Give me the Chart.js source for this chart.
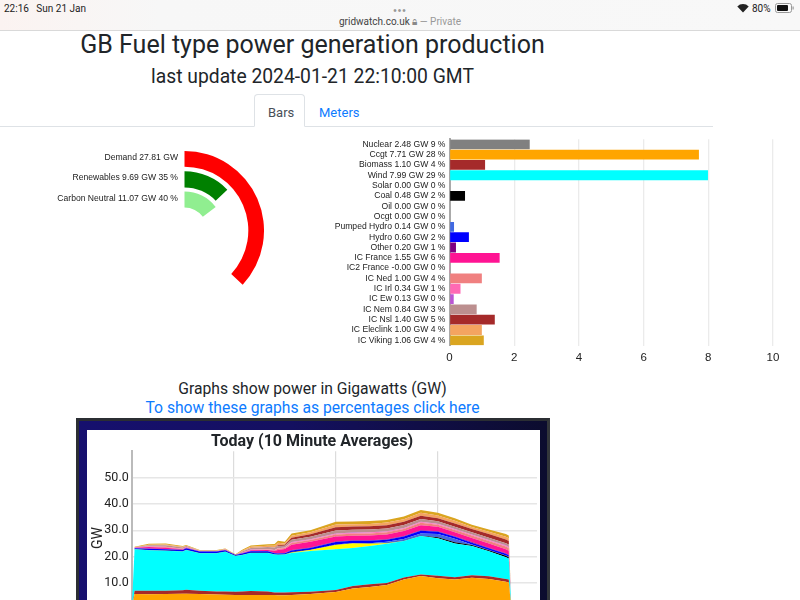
<!DOCTYPE html>
<html><head><meta charset="utf-8">
<script src="https://cdn.jsdelivr.net/npm/chart.js@4"></script>
<style>
html,body{margin:0;padding:0;width:800px;height:600px;overflow:hidden;background:#fff;}
.t{position:absolute;white-space:nowrap;line-height:1;}
.c{transform:translateX(-50%);}
.ui{font-family:Roboto,"Noto Sans",sans-serif;color:#212529;}
.lab{font-family:"Liberation Sans",sans-serif;font-size:8.6px;color:#222;text-align:right;}
canvas{position:absolute;display:block;}
#status{position:absolute;left:0;top:0;width:800px;height:30px;background:linear-gradient(90deg,#fbf3f1,#f7f7f7 20%,#f8f8f8);border-bottom:1px solid #d9d9d9;}
#frame{position:absolute;left:76px;top:418px;width:474px;height:200px;box-sizing:border-box;border:3px solid #2b2e33;border-right-color:#33363a;background:linear-gradient(90deg,#16106e,#141060 45%,#0c0c2e);}
#white{position:absolute;left:87px;top:430px;width:453px;height:190px;background:#fff;}
#tabline{position:absolute;left:0;top:126px;width:713px;height:1px;background:#dee2e6;}
#tab{position:absolute;left:254px;top:94px;width:51px;height:33px;box-sizing:border-box;border:1px solid #dee2e6;border-bottom:1px solid #fff;border-radius:4px 4px 0 0;background:#fff;}
</style></head><body>
<div id="status"></div>
<div class="t" style="left:4px;top:3px;font:10px Roboto,sans-serif;color:#222;">22:16&nbsp;&nbsp;&nbsp;Sun 21 Jan</div>
<div class="t c" style="left:400px;top:5px;font:10px 'Liberation Sans',sans-serif;color:#999;letter-spacing:1px;">•••</div>
<div class="t c" style="left:400px;top:16px;font:10px Roboto,sans-serif;color:#444;">gridwatch.co.uk <span style="color:#888">🔒︎</span> <span style="color:#999">— Private</span></div>
<svg style="position:absolute;left:737px;top:3px" width="12" height="10" viewBox="0 0 12 10"><path d="M6 9.5L0.3 3.5A8 8 0 0 1 11.7 3.5Z" fill="#222"/></svg>
<div class="t" style="left:752px;top:3px;font:10px Roboto,sans-serif;color:#222;">80%</div>
<svg style="position:absolute;left:775px;top:3px" width="20" height="11" viewBox="0 0 20 11"><rect x=".5" y=".5" width="16" height="9" rx="2" fill="none" stroke="#999"/><rect x="2" y="2" width="11" height="6" rx="1" fill="#111"/><rect x="17.5" y="3.5" width="1.2" height="3" fill="#999"/></svg>

<div class="t c ui" style="left:312.5px;top:32px;font-size:25px;" id="title">GB Fuel type power generation production</div>
<div class="t c ui" style="left:312.5px;top:67px;font-size:19.3px;" id="sub">last update 2024-01-21 22:10:00 GMT</div>
<div id="tabline"></div><div id="tab"></div>
<div class="t" style="left:268px;top:104.5px;font:13px Roboto,sans-serif;color:#495057;">Bars</div>
<div class="t" style="left:319px;top:104.5px;font:13px Roboto,sans-serif;color:#0d7bff;">Meters</div>

<canvas id="gauge" width="159" height="159" style="left:105px;top:151px;width:159px;height:159px"></canvas>
<div class="t lab" id="g0" style="right:622px;top:153px"></div>
<div class="t lab" id="g1" style="right:622px;top:173.4px"></div>
<div class="t lab" id="g2" style="right:622px;top:194px"></div>

<canvas id="bars" width="470" height="240" style="left:330px;top:130px;width:470px;height:240px"></canvas>

<div class="t c ui" style="left:312.5px;top:381px;font-size:15.7px;">Graphs show power in Gigawatts (GW)</div>
<div class="t c ui" style="left:312.5px;top:400px;font-size:15.7px;color:#0d7bff;">To show these graphs as percentages click here</div>

<div id="frame"></div><div id="white"></div>
<canvas id="area" width="453" height="210" style="left:87px;top:430px;width:453px;height:210px"></canvas>
<div class="t" style="left:97px;top:538px;font:14px Roboto,sans-serif;color:#222;transform:translate(-50%,-50%) rotate(-90deg);">GW</div>

<script>
const fuelNames=["Nuclear","Ccgt","Biomass","Wind","Solar","Coal","Oil","Ocgt","Pumped Hydro","Hydro","Other","IC France","IC2 France","IC Ned","IC Irl","IC Ew","IC Nem","IC Nsl","IC Eleclink","IC Viking"];
const nowGW=[2.48,7.71,1.10,7.99,0,0.48,0,0,0.14,0.60,0.20,1.55,-0.001,1.00,0.34,0.13,0.84,1.40,1.00,1.06];
const nowPct=[9,28,4,29,0,2,0,0,0,2,1,6,0,4,1,0,3,5,4,4];
const fuelColors=["#808080","#ffa500","#a52a2a","#00ffff","#ffff00","#000000","#696969","#8b4513","#4169e1","#0000ff","#800080","#ff1493","#ff69b4","#f08080","#ff69b4","#ba55d3","#bc8f8f","#a52a2a","#f4a460","#daa520"];

const gaugeLabels=["Demand","Renewables","Carbon Neutral"];
const gaugeGW=[27.81,9.69,11.07];
const gaugePct=[null,35,40];
const gaugeColors=["#ff0000","#008000","#90ee90"];
const gaugeMax=75.3;

const hours=[0,0.17,1,2,3,3.2,4,5,5.5,6.1,6.5,7,8,8.4,8.6,9,9.4,10.5,12,13,14,15,16,17,18,19,20,21,22,22.17,22.33];
const nuclear=[0,2.5,2.5,2.5,2.5,2.5,2.5,2.5,2.5,2.5,2.5,2.5,2.5,2.5,2.5,2.5,2.5,2.5,2.5,2.5,2.5,2.5,2.5,2.5,2.5,2.5,2.5,2.5,2.5,2.48,0];
const ccgt=[0,3.3,3.2,3.3,3.4,3.4,3.3,3.1,3.0,2.9,2.9,2.9,2.9,2.9,2.8,2.8,2.9,3.3,4.1,5.4,6.0,6.7,8.8,10.1,9.3,8.8,9.5,9.0,8.0,7.71,0];
const biomass=[0,1.2,1.3,1.2,1.3,1.5,1.2,1.2,1.3,1.3,1.4,1.5,1.4,1.0,1.1,1.1,1.1,0.9,0.7,0.9,1.0,0.8,0.8,0.6,0.9,0.9,0.9,1.0,1.0,1.10,0];
const wind=[0,15.8,15.4,15.2,14.7,15.1,14.3,14.5,15.0,13.5,13.8,14.5,14.6,14.4,14.3,14.4,14.9,15.4,15.5,14.5,14.5,14.9,13.8,14.6,14.3,12.8,11.1,9.5,8.3,7.99,0];
const solar=[0,0,0,0,0,0,0,0,0,0,0,0,0,0,0,0,0.2,0.4,1.6,1.7,0.9,0.2,0,0,0,0,0,0,0,0,0];
const coal=[0,.05,.1,.1,.1,.1,.1,.1,.1,.1,.1,.1,.1,.1,.1,.1,.1,.1,.1,.1,.1,.1,.1,.1,.3,.4,.4,.4,.5,.48,0];
const oil=[0,0,0,0,0,0,0,0,0,0,0,0,0,0,0,0,0,0,0,0,0,0,0,0,0,0,0,0,0,0,0];
const ocgt=[0,0,0,0,0,0,0,0,0,0,0,0,0,0,0,0,0,0,0,0,0,0,0,0,0,0,0,0,0,0,0];
const pumped=[0,0,0,0,0,0,0,0,0,0,0,0,0,0,0,0,0,0,.1,.1,.1,.4,.7,.9,1.3,1.4,.2,.1,.15,.14,0];
const hydro=[0,.35,.5,.5,.5,.6,.5,.5,.5,.35,.5,.5,.5,.4,.4,.4,.6,.7,.9,.8,.9,.8,.9,1,.8,.7,.7,.7,.6,.6,0];
const other=[0,.1,.1,.1,.1,.1,.1,.1,.1,.05,.1,.1,.1,.1,.1,.1,.2,.2,.2,.2,.2,.2,.2,.2,.2,.2,.2,.2,.2,.2,0];
const france=[0,.05,.55,.5,.2,.2,.05,.05,.1,0,.1,.3,.4,.8,1.2,1.5,2,2.1,1.9,1.7,1.8,1.8,1.9,1.9,1.7,1.5,1.6,1.6,1.55,1.55,0];
const france2=[0,0,0,0,0,0,0,0,0,0,0,0,0,0,0,0,0,0,0,0,0,0,0,0,0,0,0,0,0,0,0];
const ned=[0,.05,.1,.2,.1,.05,.05,.05,.05,0,.05,.1,.15,.2,.5,.4,.7,.7,.8,.8,.8,.8,.8,.9,.8,.9,.9,.9,1,1,0];
const irl=[0,.05,.1,.1,.05,.05,.05,.05,.05,0,.05,.1,.1,.1,.15,.1,.2,.2,.3,.3,.3,.3,.3,.3,.3,.3,.3,.3,.34,.34,0];
const ew=[0,.02,.05,.05,.05,.05,.02,.02,.02,0,.02,.05,.05,.05,.05,.05,.1,.1,.1,.1,.1,.1,.1,.1,.1,.1,.1,.1,.13,.13,0];
const nem=[0,.05,.45,.55,.5,.35,.08,.05,.1,0,.4,.6,.8,.9,.85,.7,.9,.9,1.1,1.1,1.1,1.1,1.1,1.1,.9,.8,.8,.9,.84,.84,0];
const nsl=[0,0,0,0,0,0,0,0,0,0,0,0,0,0,.3,.3,.8,1,1.2,1.2,1.2,1.2,1.2,1.2,1.2,1.3,1.3,1.4,1.4,1.4,0];
const eleclink=[0,.05,.15,.25,.2,.1,.05,.05,.1,0,.28,.45,.55,.7,.9,.5,.7,.7,1.1,.9,.9,1,1,1.1,1,1,.7,.8,1,1,0];
const viking=[0,.15,.4,.45,.3,.3,.2,.2,.2,.2,.4,.5,.55,.65,.75,.65,.9,.8,1,1,1.1,1,1,1.1,1,1,.9,.9,1.06,1.06,0];
const history=[nuclear,ccgt,biomass,wind,solar,coal,oil,ocgt,pumped,hydro,other,france,france2,ned,irl,ew,nem,nsl,eleclink,viking];

Chart.defaults.animation=false;
Chart.defaults.plugins.legend.display=false;
Chart.defaults.plugins.tooltip.enabled=false;

/* gauge */
gaugeLabels.forEach((n,i)=>{
  document.getElementById('g'+i).textContent=n+' '+gaugeGW[i].toFixed(2)+' GW'+(gaugePct[i]===null?'':' '+gaugePct[i]+' %');
});
const ring=(i,w)=>({data:[gaugeGW[i],gaugeMax-gaugeGW[i]],backgroundColor:[gaugeColors[i],'rgba(0,0,0,0)'],borderWidth:0,weight:w});
const gap=w=>({data:[gaugeMax],backgroundColor:['rgba(0,0,0,0)'],borderWidth:0,weight:w});
new Chart(document.getElementById('gauge'),{type:'doughnut',
  data:{labels:['value','rest'],datasets:[ring(0,15.6),gap(4.6),ring(1,16),gap(4),ring(2,16)]},
  options:{responsive:false,cutout:23,events:[]}});

/* bars */
new Chart(document.getElementById('bars'),{type:'bar',
  data:{labels:fuelNames.map((n,i)=>n+' '+nowGW[i].toFixed(2)+' GW '+nowPct[i]+' %'),
    datasets:[{data:nowGW,backgroundColor:fuelColors,borderWidth:0,barPercentage:.95,categoryPercentage:1}]},
  options:{responsive:false,indexAxis:'y',events:[],layout:{padding:{top:8,right:27,left:0,bottom:0}},
    scales:{
      x:{min:0,max:10,ticks:{stepSize:2,color:'#222',font:{family:'Liberation Sans',size:11.5},padding:5,maxRotation:0},
         grid:{color:'#ebebeb',lineWidth:1.3,drawTicks:false},border:{display:false},
         afterFit(s){s.height=24.5;}},
      y:{ticks:{color:'#222',font:{family:'Liberation Sans',size:8.6},padding:4,autoSkip:false},
         grid:{display:false,drawTicks:false},border:{color:'#aaa',width:2},
         afterFit(s){s.width=119.5;}}
    }}});

/* area */
new Chart(document.getElementById('area'),{type:'line',
  data:{datasets:history.map((s,i)=>({label:fuelNames[i],data:s.map((v,j)=>({x:hours[j],y:v})),
     backgroundColor:fuelColors[i],borderColor:fuelColors[i],borderWidth:0,pointRadius:0,tension:0,fill:i===0?'origin':'-1'}))},
  options:{responsive:false,events:[],
    layout:{padding:{top:0,right:3,left:0,bottom:0}},
    plugins:{title:{display:true,text:'Today (10 Minute Averages)',color:'#212529',font:{family:'Roboto',size:16,weight:'bold'},padding:{top:2,bottom:0}}},
    scales:{
      x:{type:'linear',min:0,max:23.83,ticks:{stepSize:6,includeBounds:false,color:'#222',callback:v=>String(v).padStart(2,'0')+':00'},
         grid:{color:'#dcdcdc',lineWidth:1.2},border:{display:false},afterFit(s){s.height=30.7;}},
      y:{stacked:true,min:0,max:60,ticks:{stepSize:10,color:'#222',font:{family:'Roboto',size:12.5},padding:3,callback:v=>v>=60?'':v.toFixed(1)},
         grid:{color:c=>c.tick.value>=60?'rgba(0,0,0,0)':'#e6e6e6',lineWidth:1.4,drawTicks:false},border:{color:'#bbbbbb',width:2},
         afterFit(s){s.width=44.7;}}
    }}});
</script>
</body></html>
